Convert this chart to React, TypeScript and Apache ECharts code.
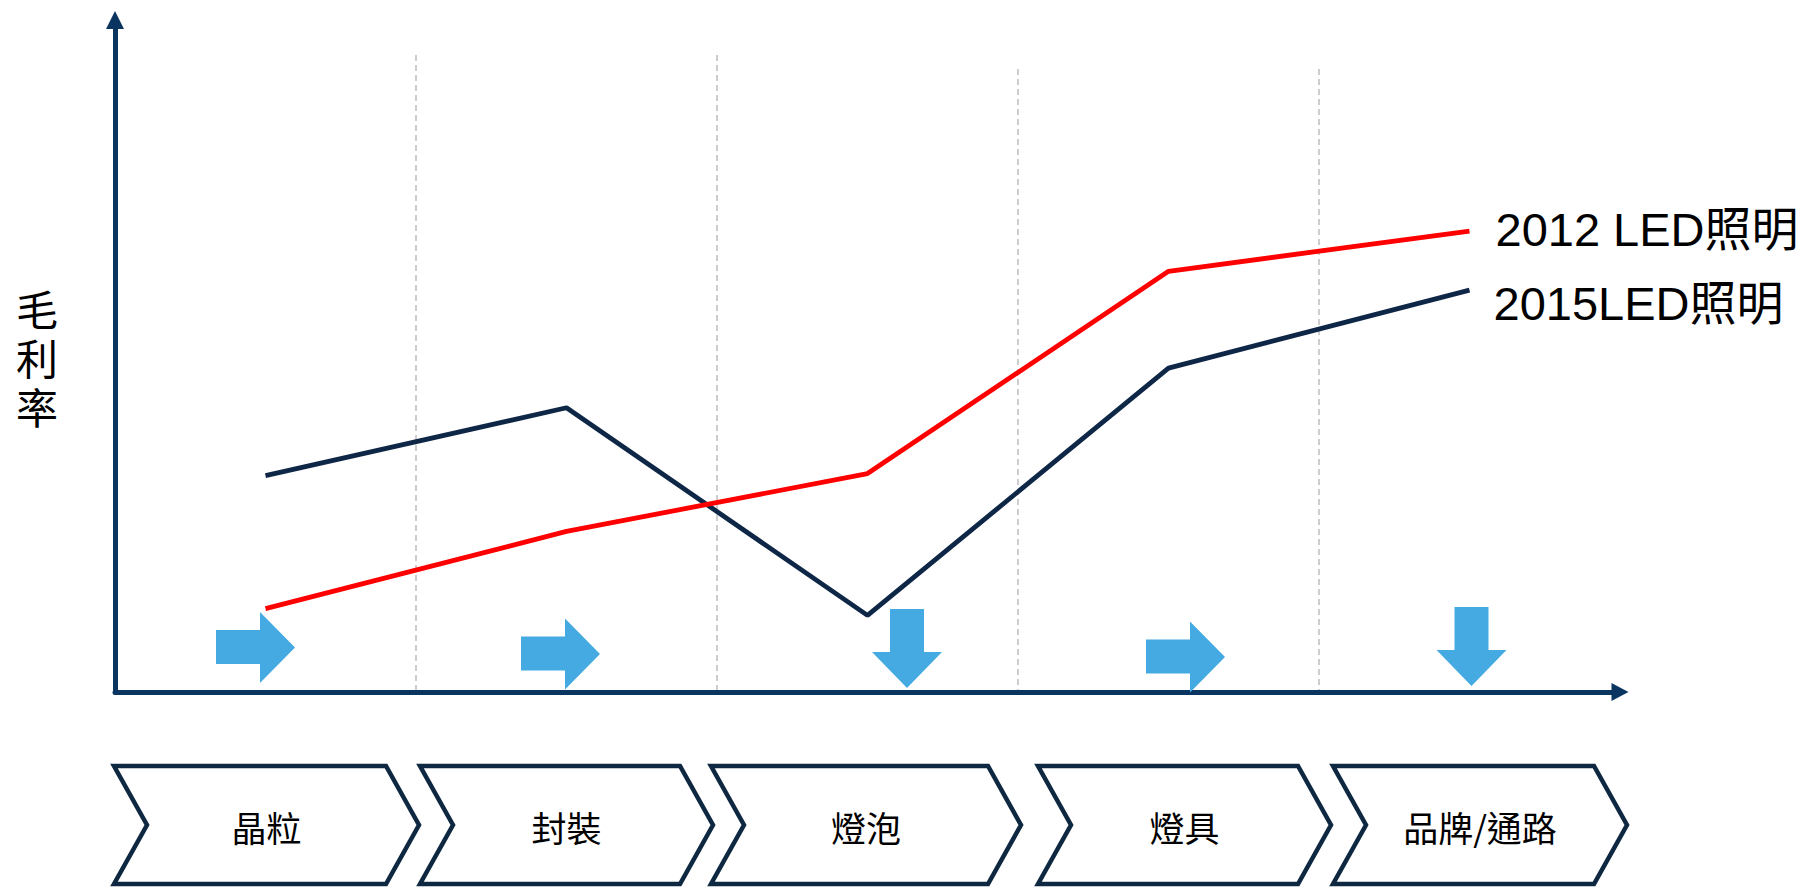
import React, { useEffect, useRef } from 'react';
import * as echarts from 'echarts';

// ---- data ----
const stages = ['晶粒', '封裝', '燈泡', '燈具', '品牌/通路'];
const seriesNames = ['2012 LED照明', '2015LED照明'];
const margin2012 = [12.4, 23.9, 32.5, 62.6, 68.6];
const margin2015 = [32.2, 42.3, 11.4, 48.2, 59.8];
const trendArrows = ['right', 'right', 'down', 'right', 'down'];
const yAxisTitle = '毛利率';

// ---- styling ----
const AXIS = '#0B3561';
const NAVY = '#0F2747';
const RED = '#FF0000';
const BLUE = '#45AAE2';
const LATIN = "'Liberation Sans', Arial, 'Noto Sans CJK TC', sans-serif";
const CJK = "'Noto Sans CJK TC', 'Noto Sans CJK SC', sans-serif";
const RIGHT_ARROW = 'path://M0,18L44,18L44,0L79,35.5L44,71L44,52L0,52Z';
const DOWN_ARROW = 'path://M18,0L52,0L52,43L70,43L35,79L0,43L18,43Z';
const arrowLevel = 6.25;
const arrowNudge = [[-10, -2.5], [-6, 4], [39.5, -1.5], [17, 7], [2, -3.5]];
// small horizontal adjustments of each chevron's left / right edge (px)
const chevronNudge = [[-1, 3], [4, -4], [-6, 3], [20, 12], [14, 7]];

export default function App() {
  const ref = useRef<HTMLDivElement>(null);
  useEffect(() => {
    if (!ref.current) return;
    const chart = echarts.init(ref.current, null, { renderer: 'svg' });
    const gridBase = { left: 115, right: 188, bottom: 195 };
    const hiddenCat = (gridIndex: number, lines: number[]) => ({
      type: 'category',
      gridIndex,
      data: stages,
      boundaryGap: true,
      axisLine: { show: false },
      axisTick: { show: false },
      axisLabel: { show: false },
      splitLine: {
        show: true,
        showMinLine: true,
        showMaxLine: false,
        interval: (idx: number) => lines.indexOf(idx) >= 0,
        lineStyle: { type: [6, 4], color: '#BDBDBD', width: 1.5 },
      },
    });
    const option: any = {
      animation: false,
      backgroundColor: '#ffffff',
      grid: [
        { ...gridBase, top: 20 },
        { ...gridBase, top: 55 },
        { ...gridBase, top: 69 },
      ],
      xAxis: [
        {
          type: 'category',
          gridIndex: 0,
          data: stages,
          boundaryGap: true,
          axisLine: {
            show: true,
            symbol: ['none', 'triangle'],
            symbolSize: [18, 17],
            lineStyle: { color: AXIS, width: 5 },
          },
          axisTick: { show: false },
          axisLabel: { show: false },
          splitLine: { show: false },
        },
        hiddenCat(1, [1, 2]),
        hiddenCat(2, [3, 4]),
      ],
      yAxis: [
        {
          type: 'value',
          gridIndex: 0,
          min: 0,
          max: 100,
          axisLine: {
            show: true,
            symbol: ['none', 'triangle'],
            symbolSize: [18, 18],
            lineStyle: { color: AXIS, width: 5 },
          },
          axisTick: { show: false },
          axisLabel: { show: false },
          splitLine: { show: false },
          name: yAxisTitle.split('').join('\n'),
          nameLocation: 'middle',
          nameRotate: 0,
          nameGap: 57,
          nameTextStyle: {
            fontFamily: CJK,
            fontSize: 42,
            lineHeight: 49,
            color: '#000',
            padding: [8, 0, 0, 0],
          },
        },
        { type: 'value', gridIndex: 1, show: false, min: 0, max: 100 },
        { type: 'value', gridIndex: 2, show: false, min: 0, max: 100 },
      ],
      series: [
        {
          type: 'custom',
          name: 'stages',
          xAxisIndex: 0,
          yAxisIndex: 0,
          data: stages.map((_, i) => [i]),
          z: 1,
          renderItem: (params: any, api: any) => {
            const i = api.value(0);
            const c = api.coord([i, 0]);
            const bw = api.size([1, 0])[0];
            const left = c[0] - bw / 2 + chevronNudge[i][0];
            const right = c[0] + bw / 2 + chevronNudge[i][1];
            const top = c[1] + 74;
            const bottom = c[1] + 192;
            const mid = (top + bottom) / 2;
            const d = 33;
            return {
              type: 'group',
              children: [
                {
                  type: 'polygon',
                  shape: {
                    points: [
                      [left, top],
                      [right - d, top],
                      [right, mid],
                      [right - d, bottom],
                      [left, bottom],
                      [left + d, mid],
                    ],
                  },
                  style: { fill: '#fff', stroke: '#0E2841', lineWidth: 4.5, lineJoin: 'miter' },
                },
                {
                  type: 'text',
                  style: {
                    text: stages[i],
                    x: (left + right) / 2,
                    y: mid + 1,
                    align: 'center',
                    verticalAlign: 'middle',
                    fontSize: 35,
                    fontFamily: CJK,
                    fill: '#000',
                  },
                },
              ],
            };
          },
        },
        {
          type: 'scatter',
          name: 'trend',
          xAxisIndex: 0,
          yAxisIndex: 0,
          z: 2,
          itemStyle: { color: BLUE, opacity: 1 },
          data: trendArrows.map((t, i) => ({
            value: [i, arrowLevel],
            symbol: t === 'right' ? RIGHT_ARROW : DOWN_ARROW,
            symbolSize: t === 'right' ? [79, 71] : [70, 79],
            symbolOffset: arrowNudge[i],
          })),
        },
        {
          type: 'line',
          name: seriesNames[0],
          xAxisIndex: 0,
          yAxisIndex: 0,
          data: margin2012,
          symbol: 'none',
          z: 4,
          lineStyle: { color: RED, width: 4.8 },
          itemStyle: { color: RED },
          endLabel: {
            show: true,
            formatter: () => seriesNames[0],
            distance: 26,
            offset: [0, -2],
            color: '#000',
            fontSize: 47,
            fontFamily: LATIN,
          },
        },
        {
          type: 'line',
          name: seriesNames[1],
          xAxisIndex: 0,
          yAxisIndex: 0,
          data: margin2015,
          symbol: 'none',
          z: 3,
          lineStyle: { color: NAVY, width: 4.8 },
          itemStyle: { color: NAVY },
          endLabel: {
            show: true,
            formatter: () => seriesNames[1],
            distance: 24,
            offset: [0, 13],
            color: '#000',
            fontSize: 47,
            fontFamily: LATIN,
          },
        },
      ],
    };
    chart.setOption(option);
    return () => chart.dispose();
  }, []);
  return (
    <div
      ref={ref}
      style={{ position: 'fixed', left: 0, top: 0, width: 1808, height: 887, background: '#fff' }}
    />
  );
}
